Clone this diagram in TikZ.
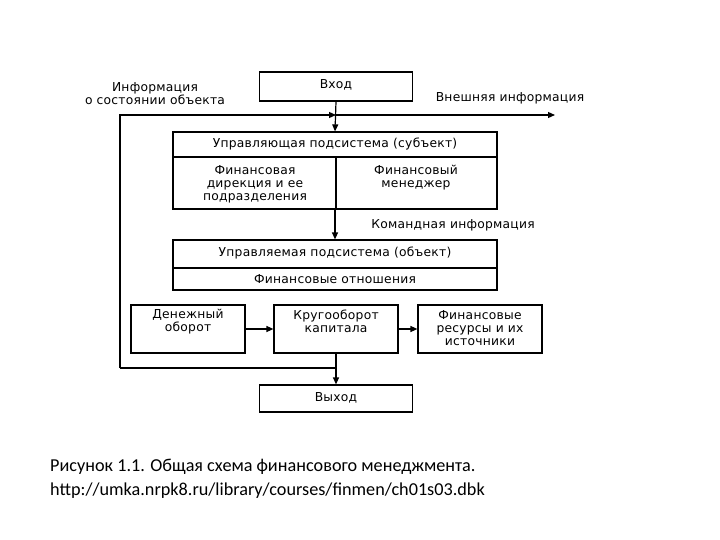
\documentclass[tikz,border=0pt]{standalone}
\usepackage{fontspec}
\newfontfamily\df{DejaVu Sans}[LetterSpace=2]
\newfontfamily\capf{Carlito}
\usetikzlibrary{arrows.meta}
\begin{document}
\begin{tikzpicture}[x=1pt,y=-1pt,
  box/.style={draw,line width=1.2pt,inner sep=0pt},
  lbl/.style={font=\df\fontsize{12.3}{13}\selectfont,inner sep=0pt,align=center},
  ln/.style={line width=1.2pt},
  arr/.style={line width=1.2pt,-{Triangle[length=7pt,width=6pt]}},
  capt/.style={font=\capf\fontsize{18.2}{20}\selectfont,inner sep=0pt,anchor=west}]
\useasboundingbox (0,0) rectangle (720,540);
% boxes
\node[box,minimum width=153pt,minimum height=29pt] (in) at (336,86.5) {};
\node[box,minimum width=324pt,minimum height=77pt] (ctl) at (335,170.5) {};
\node[box,minimum width=324pt,minimum height=50pt] (obj) at (335,265) {};
\node[box,minimum width=114pt,minimum height=48pt] (den) at (188,329) {};
\node[box,minimum width=124pt,minimum height=48pt] (krug) at (336,329) {};
\node[box,minimum width=124pt,minimum height=48pt] (res) at (480,329) {};
\node[box,minimum width=153pt,minimum height=27pt] (out) at (336,398.5) {};
% dividers
\coordinate (cdl) at (173,157);
\coordinate (cdr) at (497,157);
\coordinate (cdm) at (336,157);
\draw[ln] (cdl) -- (cdr);
\draw[ln] (cdm) -- (cdm |- ctl.south);
\coordinate (odl) at (173,268);
\coordinate (odr) at (497,268);
\draw[ln] (odl) -- (odr);
% texts
\node[lbl] (tin) at (336,85) {Вход};
\node[lbl] (tctl) at (335,144) {Управляющая подсистема (субъект)};
\node[lbl] (tdir) at (255,184) {Финансовая\\дирекция и ее\\подразделения};
\node[lbl] (tman) at (416,177.5) {Финансовый\\менеджер};
\node[lbl] (tobj) at (335,253) {Управляемая подсистема (объект)};
\node[lbl] (trel) at (335,279) {Финансовые отношения};
\node[lbl] (tden) at (188,321.5) {Денежный\\оборот};
\node[lbl] (tkrug) at (336,321.5) {Кругооборот\\капитала};
\node[lbl] (tres) at (480,328) {Финансовые\\ресурсы и их\\источники};
\node[lbl] (tout) at (336,398) {Выход};
\node[lbl] (tinf) at (155,93.5) {Информация\\о состоянии объекта};
\node[lbl] (text) at (510,98) {Внешняя информация};
\node[lbl] (tcmd) at (453,225) {Командная информация};
% connectors
\coordinate (fbj) at (336,368);
\coordinate (fbl) at (120,368);
\coordinate (fbm) at (336,115);
\coordinate (fbr) at (555,115);
\draw[arr] (in.south) -- (ctl.north);
\draw[arr] (ctl.south) -- (obj.north);
\draw[arr] (den.east) -- (krug.west);
\draw[arr] (krug.east) -- (res.west);
\draw[arr] (krug.south) -- (out.north);
\draw[ln] (fbj) -- (fbl);
\draw[arr] (fbl) |- (fbm);
\draw[arr] (fbm) -- (fbr);
% caption
\node[capt] (cap1) at (50,467) {Рисунок 1.1. Общая схема финансового менеджмента.};
\node[capt] (cap2) at (50,491) {http://umka.nrpk8.ru/library/courses/finmen/ch01s03.dbk};
\end{tikzpicture}
\end{document}
